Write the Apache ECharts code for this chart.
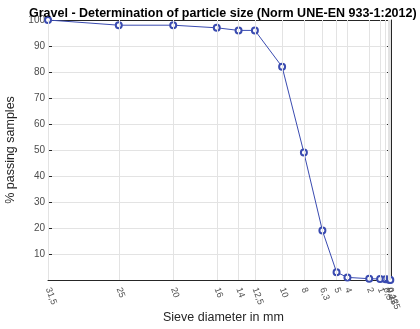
<!DOCTYPE html>
<html>
<head>
<meta charset="utf-8">
<script src="https://cdn.jsdelivr.net/npm/echarts@6/dist/echarts.min.js"></script>
<style>html,body{margin:0;padding:0;background:#fff}#c{width:420px;height:329px}</style>
</head>
<body>
<div id="c"></div>
<script>
var sieveSizes = [31.5, 25, 20, 16, 14, 12.5, 10, 8, 6.3, 5, 4, 2, 1, 0.5, 0.25, 0.125, 0.063];
var passing = [100, 98, 98, 97, 96, 96, 82, 49, 19, 3, 1, 0.5, 0.4, 0.3, 0.2, 0.1, 0];
var xTickValues = [31.5, 25, 20, 16, 14, 12.5, 10, 8, 6.3, 5, 4, 2, 1, 0.5, 0.25, 0.125, 0.063];
var yTickValues = [10, 20, 30, 40, 50, 60, 70, 80, 90, 100];

var chart = echarts.init(document.getElementById('c'), null, {renderer: 'canvas'});
var axisColor = '#262626';
var gridColor = '#e3e3e3';
var font = 'Liberation Sans, Arial, Helvetica, sans-serif';

var pts = sieveSizes.map(function (s, i) { return [s, passing[i]]; });

var option = {
  backgroundColor: '#ffffff',
  animation: false,
  title: [{
    text: 'Gravel - Determination of particle size (Norm UNE-EN 933-1:2012)',
    left: 24, top: 2,
    textStyle: {fontFamily: font, fontSize: 12.5, fontWeight: 'bold', color: '#000'}
  }, {
    text: 'Sieve diameter in mm',
    left: 158, top: 306,
    textStyle: {fontFamily: font, fontSize: 12.5, fontWeight: 'normal', color: '#262626'}
  }],
  grid: {left: 48, right: 29, top: 20, bottom: 49, containLabel: false, outerBoundsMode: 'none'},
  xAxis: [{
    type: 'value', min: 0, max: 31.5, inverse: true,
    axisLine: {show: true, onZero: false, lineStyle: {color: axisColor, width: 1}},
    axisTick: {show: true, inside: true, length: 4, customValues: xTickValues, lineStyle: {color: axisColor}},
    axisLabel: {
      show: true, customValues: xTickValues, rotate: -70, margin: 8,
      fontFamily: font, fontSize: 9, color: '#4d4d4d',
      formatter: function (v) { return String(v).replace('.', ','); }
    },
    splitLine: {show: false}
  }, {
    type: 'value', min: 0, max: 31.5, inverse: true, position: 'top',
    axisLine: {show: true, onZero: false, lineStyle: {color: axisColor, width: 1}},
    axisTick: {show: true, inside: true, length: 4, customValues: xTickValues, lineStyle: {color: axisColor}},
    axisLabel: {show: false},
    splitLine: {show: false}
  }],
  yAxis: [{
    type: 'value', min: 0, max: 100, interval: 10,
    name: '% passing samples', nameLocation: 'middle', nameGap: 29,
    nameTextStyle: {fontFamily: font, fontSize: 12.5, color: '#262626'},
    axisLine: {show: true, onZero: false, lineStyle: {color: axisColor, width: 1}},
    axisTick: {show: true, inside: true, length: 4, lineStyle: {color: axisColor}},
    axisLabel: {
      fontFamily: font, fontSize: 10, color: '#4d4d4d', margin: 3,
      formatter: function (v) { return yTickValues.indexOf(v) >= 0 ? String(v) : ''; }
    },
    splitLine: {show: true, lineStyle: {color: gridColor, width: 1}}
  }, {
    type: 'value', min: 0, max: 100, interval: 10, position: 'right',
    axisLine: {show: true, onZero: false, lineStyle: {color: axisColor, width: 1}},
    axisTick: {show: true, inside: true, length: 4, lineStyle: {color: axisColor}},
    axisLabel: {show: false},
    splitLine: {show: false}
  }],
  series: [{
    type: 'line', data: [], z: 1, silent: true,
    markLine: {
      silent: true, symbol: ['none', 'none'], label: {show: false},
      lineStyle: {color: gridColor, width: 1, type: 'solid'},
      animation: false,
      data: xTickValues.map(function (v) { return {xAxis: v}; })
    }
  }, {
    type: 'line', data: pts, z: 3,
    symbol: 'emptyCircle', symbolSize: 6,
    lineStyle: {color: '#3a4bb0', width: 1},
    itemStyle: {color: '#3a4bb0', borderWidth: 1.3}
  }]
};
chart.setOption(option);
</script>
</body>
</html>
